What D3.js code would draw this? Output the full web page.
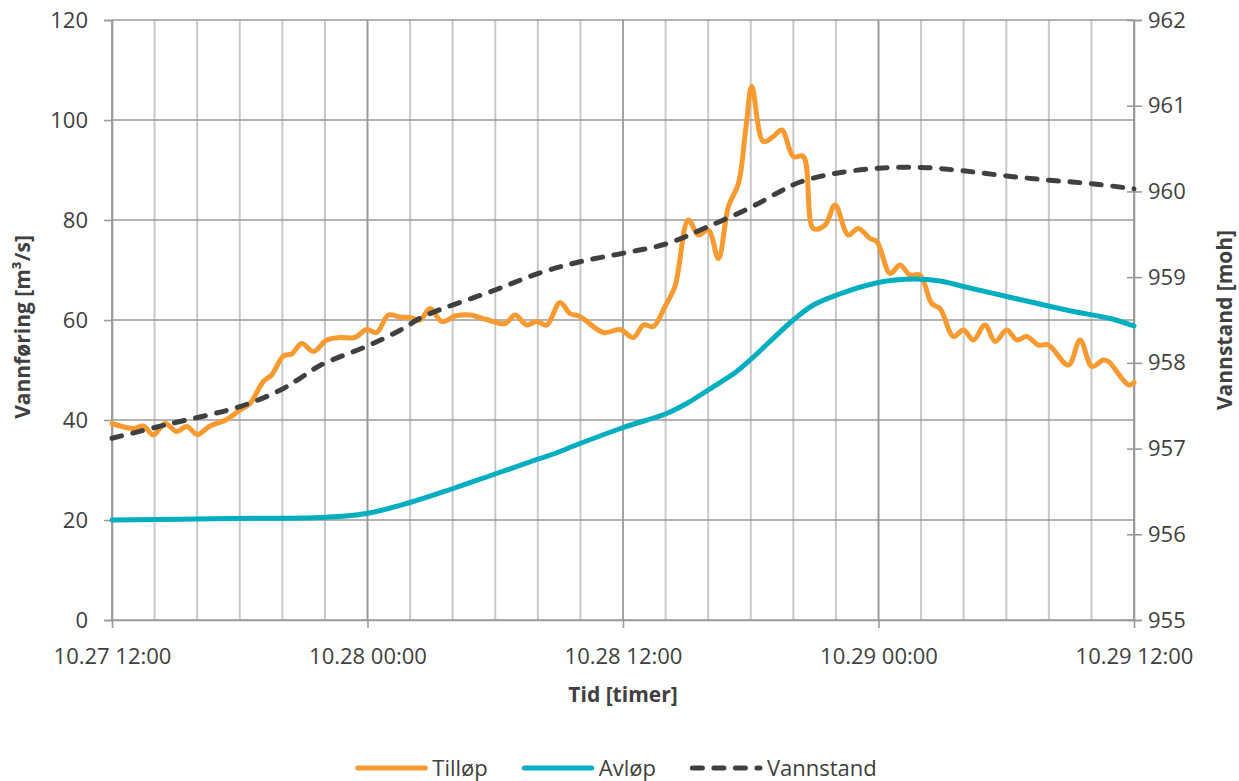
<!DOCTYPE html>
<html><head><meta charset="utf-8">
<script src="https://cdn.jsdelivr.net/npm/d3@7"></script>
<style>
body{margin:0;background:#fff;}
text{font-family:"Open Sans",sans-serif;fill:#404040;}
</style>
</head><body>
<svg id="chart" width="1239" height="781"></svg>
<script>
// ---- DATA (hours after 10.27 12:00) ----
const tilHours = [0,1.0,1.47,1.94,2.49,3.04,3.51,4.01,4.6,5.39,6.01,6.48,7.11,7.5,8.05,8.44,8.91,9.46,10.08,10.71,11.41,11.96,12.43,12.98,13.53,14.0,14.47,14.94,15.49,16.19,16.82,17.6,18.46,18.93,19.48,19.95,20.42,21.04,21.51,21.98,23.08,23.86,24.49,24.96,25.43,25.97,26.44,27.07,27.54,28.01,28.48,28.95,29.42,29.78,30.05,30.59,31.06,31.46,32.0,32.47,32.94,33.49,33.96,34.58,35.05,35.6,35.92,36.55,37.01,37.48,37.95,38.5,38.89,39.52,39.99,40.46,41.0,41.48,42.02,42.5,42.96,43.51,43.98,44.92,45.47,46.02,46.56,46.8,47.75,48];
const tilValues = [39.3,38.3,38.8,37,39.3,37.7,38.7,37.1,38.8,40.1,42,43.3,47.7,49,52.8,53.2,55.3,53.7,56,56.5,56.5,58.1,57.5,61,60.6,60.5,60,62.3,59.7,60.9,61,60.1,59.3,61,59,59.7,59,63.5,61.3,60.7,57.5,58.1,56.5,59,58.7,62.7,66.7,80,77,78,72.3,82.7,87.3,98.7,106.7,95.7,96.7,98,92.7,92.7,78.3,79,83,77,78.3,76.3,75.7,69.3,71,69,69,63.3,62.3,56.7,58,56,59,55.7,58,56,56.7,55,55,51,56,50.7,52,51.7,47,47.5];

const avHours = [0,5.54,9.77,11.96,14.0,16.03,17.99,20.02,20.73,21.98,24.02,26.05,26.99,28.0,29.34,30.05,32.0,32.94,34.04,35.99,37.64,38.89,39.99,42.02,43.98,45.15,46.88,48];
const avValues = [20,20.3,20.5,21.3,23.5,26.3,29.2,32.2,33.2,35.3,38.5,41.3,43.3,46,49.7,52.3,60,63,65,67.5,68.2,67.8,66.7,64.7,62.8,61.7,60.3,58.8];

const vsHours = [0,2.57,6.01,7.89,8.83,9.77,12.02,13.53,14.62,17.99,20.1,21.98,24.02,26.05,28.0,30.05,31.38,32.32,33.96,35.99,38.03,39.99,42.02,44.06,46.02,48];
const vsValues = [957.12,957.28,957.49,957.68,957.82,957.97,958.2,958.38,958.54,958.85,959.05,959.18,959.28,959.39,959.59,959.82,960.0,960.11,960.21,960.27,960.28,960.24,960.18,960.13,960.09,960.03];

const leftTicks = [0,20,40,60,80,100,120];
const rightTicks = [955,956,957,958,959,960,961,962];
const seriesNames = ["Tilløp","Avløp","Vannstand"];
const xTitle = "Tid [timer]";
const yLeftTitle = "Vannføring [m³/s]";
const yRightTitle = "Vannstand [moh]";

// ---- LAYOUT ----
const svg = d3.select("#chart");
const L = 112, R = 1134, T = 20, B = 620;
const t0 = new Date(2000, 9, 27, 12, 0, 0);
const hr = h => new Date(t0.getTime() + h * 3600000);
const t1 = hr(48);

const x = d3.scaleTime().domain([t0, t1]).range([L, R]);
const yL = d3.scaleLinear().domain([0, 120]).range([B, T]);
const yR = d3.scaleLinear().domain([955, 962]).range([B, T]);

const minor = d3.timeHour.every(2).range(t0, hr(48.01));
svg.append("g").selectAll("line").data(minor).join("line")
  .attr("x1", d => x(d)).attr("x2", d => x(d)).attr("y1", T).attr("y2", B)
  .attr("stroke", "#c8c8c8").attr("stroke-width", 2);
const major = d3.timeHour.every(12).range(t0, hr(48.01));
svg.append("g").selectAll("line").data(major).join("line")
  .attr("x1", d => x(d)).attr("x2", d => x(d)).attr("y1", T).attr("y2", B)
  .attr("stroke", "#9a9a9a").attr("stroke-width", 1.6);
svg.append("g").selectAll("line").data(leftTicks).join("line")
  .attr("x1", L).attr("x2", R).attr("y1", d => yL(d)).attr("y2", d => yL(d))
  .attr("stroke", "#9a9a9a").attr("stroke-width", 1.6);

// axes
const fmt = d3.timeFormat("%m.%d %H:%M");
const xAxis = d3.axisBottom(x).tickValues(major).tickFormat(fmt).tickSize(8).tickPadding(20);
const gx = svg.append("g").attr("transform", `translate(0,${B})`).call(xAxis);
const yAxisL = d3.axisLeft(yL).tickValues(leftTicks).tickSize(8).tickPadding(16);
const gyl = svg.append("g").attr("transform", `translate(${L},0)`).call(yAxisL);
const yAxisR = d3.axisRight(yR).tickValues(rightTicks).tickFormat(d3.format("d")).tickSize(8).tickPadding(6);
const gyr = svg.append("g").attr("transform", `translate(${R},0)`).call(yAxisR);
gyr.selectAll(".tick line").attr("x1", -7);
[gx, gyl, gyr].forEach(g => {
  g.select(".domain").attr("stroke", "#9a9a9a").attr("stroke-width", 1.6);
  g.selectAll(".tick line").attr("stroke", "#9a9a9a").attr("stroke-width", 1.6);
  g.selectAll(".tick text").attr("fill", "#404040").style("font-size", "22px")
    .style("font-family", '"Open Sans",sans-serif');
});
gx.select(".domain").attr("d", `M${L},0.5H${R}`);

// titles
svg.append("text").attr("x", (L + R) / 2).attr("y", 702).attr("text-anchor", "middle")
  .style("font-size", "21px").style("font-weight", "bold").text(xTitle);
svg.append("text").attr("transform", `translate(30,${(T + B) / 2 + 7}) rotate(-90)`)
  .attr("text-anchor", "middle").style("font-size", "21px").style("font-weight", "bold").text(yLeftTitle);
svg.append("text").attr("transform", `translate(1232,${(T + B) / 2}) rotate(-90)`)
  .attr("text-anchor", "middle").style("font-size", "21px").style("font-weight", "bold").text(yRightTitle);

// series
const colTil = "#F79A30", colAv = "#00AEC0", colVs = "#404040";
const curve = d3.curveCatmullRom.alpha(0.5);
const lineL = d3.line().x(d => x(hr(d[0]))).y(d => yL(d[1])).curve(curve);
const lineR = d3.line().x(d => x(hr(d[0]))).y(d => yR(d[1])).curve(curve);

const til = d3.zip(tilHours, tilValues);
const av = d3.zip(avHours, avValues);
const vs = d3.zip(vsHours, vsValues);

svg.append("path").datum(til).attr("d", lineL).attr("fill", "none")
  .attr("stroke", colTil).attr("stroke-width", 5).attr("stroke-linejoin", "round").attr("stroke-linecap", "round");
svg.append("path").datum(av).attr("d", lineL).attr("fill", "none")
  .attr("stroke", colAv).attr("stroke-width", 5).attr("stroke-linejoin", "round").attr("stroke-linecap", "round");
svg.append("path").datum(vs).attr("d", lineR).attr("fill", "none")
  .attr("stroke", colVs).attr("stroke-width", 5).attr("stroke-dasharray", "10,11.5").attr("stroke-linecap", "round");

// legend
const legY = 768;
const lg = svg.append("g");
const items = [
  {name: seriesNames[0], col: colTil, dash: null},
  {name: seriesNames[1], col: colAv, dash: null},
  {name: seriesNames[2], col: colVs, dash: "10,11.5"}
];
let cx = 0;
const lineLen = 70, gapTxt = 7, gapItem = 34;
items.forEach((it, i) => {
  const g = lg.append("g").attr("transform", `translate(${cx},0)`);
  g.append("line").attr("x1", 2.5).attr("x2", lineLen).attr("y1", legY).attr("y2", legY)
    .attr("stroke", it.col).attr("stroke-width", 5).attr("stroke-linecap", "round")
    .attr("stroke-dasharray", it.dash);
  const t = g.append("text").attr("x", lineLen + gapTxt).attr("y", legY).attr("dy", "0.36em")
    .style("font-size", "22px").text(it.name);
  cx += lineLen + gapTxt + t.node().getComputedTextLength() + gapItem;
});
const totalW = cx - gapItem;
lg.attr("transform", `translate(${616 - totalW / 2},0)`);
</script>
</body></html>
